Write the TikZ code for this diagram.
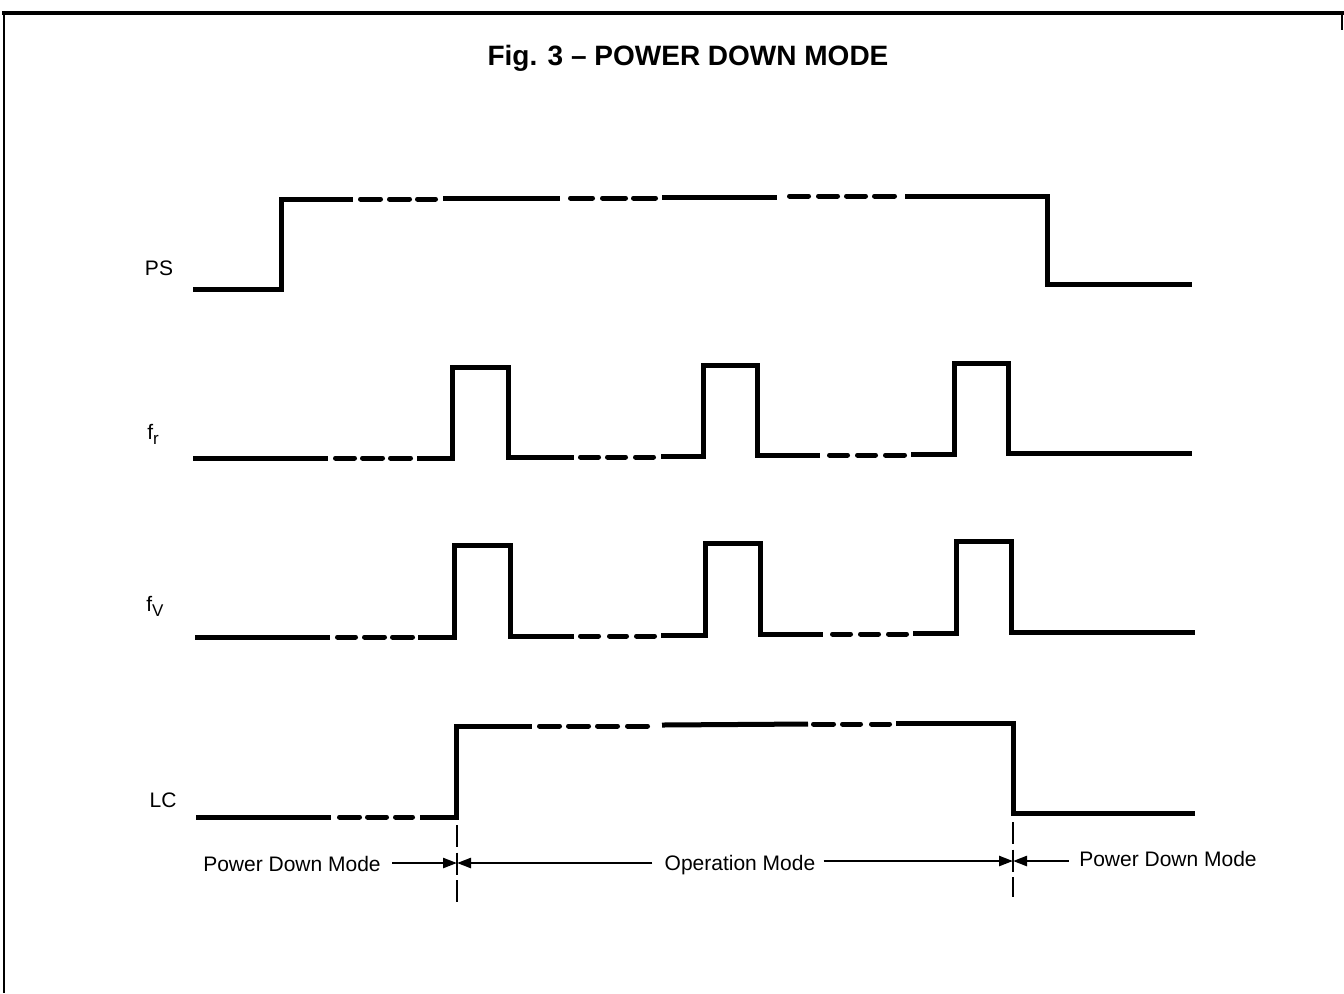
\documentclass[tikz,border=0pt]{standalone}
\usepackage{fontspec}
\setmainfont{Liberation Sans}
\usetikzlibrary{arrows.meta}
\newcommand\dashrow[2]{\foreach \a/\b in {#2} {\draw[dsh] ({\a+2.5},#1) -- ({\b-2.5},#1);}}
\begin{document}
\begin{tikzpicture}[x=0.5pt,y=-0.5pt,
  wave/.style={line width=2.5pt,line join=miter},
  dsh/.style={line width=2.5pt,line cap=round},
  marker/.style={line width=1.1pt,dash pattern=on 11pt off 2.75pt},
  arr/.style={line width=1.2pt,-{Triangle[length=7pt,width=5pt]}},
  lbl/.style={font=\fontsize{10.5}{12}\selectfont,inner sep=0pt},
  mode/.style={font=\fontsize{10.5}{12}\selectfont,inner sep=0pt,text height=5.5pt,text depth=0pt},
  ttl/.style={font=\fontsize{14}{16}\selectfont\bfseries,inner sep=0pt}]
\useasboundingbox (0,0) rectangle (1344,993);
% frame
\draw[line width=2pt] (2,13) -- (1344,13);
\draw[line width=1pt] (4,13) -- (4,993);
\draw[line width=0.6pt] (1342,14) -- (1342,30);
% title
\node[ttl] (title) at (688,58) {Fig. 3 -- POWER DOWN MODE};
% signal labels
\node[lbl] (ps) at (159,268) {PS};
\node[lbl] (fr) at (153,434) {f\raisebox{-2.5pt}{\fontsize{8.5}{9}\selectfont r}};
\node[lbl] (fv) at (155,606) {f\raisebox{-2.5pt}{\fontsize{8.5}{9}\selectfont V}};
\node[lbl] (lc) at (163,800) {LC};
% PS
\draw[wave] (193,289) -- (281,289) -- (281,199) -- (353,199);
\dashrow{199}{358/383,387/412,415/438}
\draw[wave] (443,198) -- (560,198);
\dashrow{198}{568/595,600/628,631/658}
\draw[wave] (662,197) -- (777,197);
\dashrow{196}{787/811,816/840,844/868,872/897}
\draw[wave] (905,196) -- (1047,196) -- (1047,284) -- (1192,284);
% fr
\draw[wave] (193,458) -- (328,458);
\dashrow{458}{333/357,360/385,388/413}
\draw[wave] (417,458) -- (452,458) -- (452,367) -- (508,367) -- (508,457) -- (574,457);
\dashrow{457}{578/601,605/628,633/656}
\draw[wave] (661,456) -- (703,456) -- (703,365) -- (757,365) -- (757,455) -- (820,455);
\dashrow{455}{827/850,855/878,883/907}
\draw[wave] (911,454) -- (954,454) -- (954,363) -- (1008,363) -- (1008,453) -- (1192,453);
% fv
\draw[wave] (195,637) -- (330,637);
\dashrow{637}{335/358,362/387,390/415}
\draw[wave] (418,637) -- (454,637) -- (454,545) -- (510,545) -- (510,636) -- (574,636);
\dashrow{636}{578/601,607/629,634/657}
\draw[wave] (661,635) -- (705,635) -- (705,543) -- (760,543) -- (760,634) -- (823,634);
\dashrow{634}{830/853,858/881,886/909}
\draw[wave] (913,633) -- (956,633) -- (956,541) -- (1011,541) -- (1011,632) -- (1195,632);
% LC
\draw[wave] (196,817) -- (331,817);
\dashrow{817}{337/362,365/389,393/415}
\draw[wave] (420,817) -- (456,817) -- (456,726) -- (532,726);
\dashrow{726}{537/562,566/591,595/620,625/650}
\draw[wave] (662,725) -- (808,724);
\dashrow{724}{811/836,840/863,869/892}
\draw[wave] (896,723) -- (1013,723) -- (1013,813) -- (1195,813);
% mode markers
\coordinate (m1t) at (457,825);
\coordinate (m1b) at (457,902);
\coordinate (m2t) at (1013,822);
\coordinate (m2b) at (1013,897);
\draw[marker] (m1t) -- (m1b);
\draw[marker] (m2t) -- (m2b);
\coordinate (m1) at (457,863);
\coordinate (m2) at (1013,861);
\node[mode] (pd1) at (292,866) {Power Down Mode};
\node[mode] (op) at (740,865) {Operation Mode};
\node[mode] (pd2) at (1168,861) {Power Down Mode};
\coordinate (pd1e) at ([xshift=5.5pt]pd1.east);
\coordinate (opw) at ([xshift=-6pt]op.west);
\coordinate (ope) at ([xshift=4pt]op.east);
\coordinate (pd2w) at ([xshift=-5pt]pd2.west);
\draw[arr] (pd1e |- m1) -- (m1);
\draw[arr] (opw |- m1) -- (m1);
\draw[arr] (ope |- m2) -- (m2);
\draw[arr] (pd2w |- m2) -- (m2);
\end{tikzpicture}
\end{document}
